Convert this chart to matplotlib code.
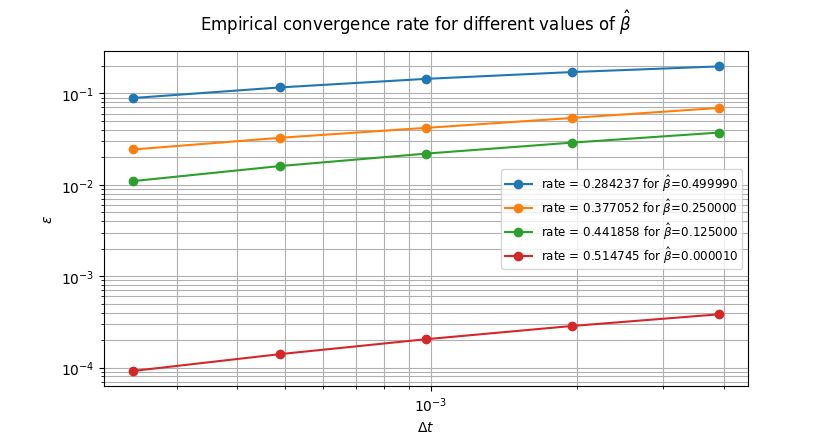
import matplotlib
matplotlib.use("Agg")
import matplotlib.pyplot as plt
import numpy as np

dt = [2**-12, 2**-11, 2**-10, 2**-9, 2**-8]
betas = [0.499990, 0.250000, 0.125000, 0.000010]
rates = [0.284237, 0.377052, 0.441858, 0.514745]
err_b0 = [0.0889, 0.116, 0.144, 0.171, 0.197]
err_b1 = [0.0243, 0.0326, 0.0419, 0.0538, 0.0692]
err_b2 = [0.01096, 0.0160, 0.0219, 0.0289, 0.0372]
err_b3 = [9.18e-5, 1.40e-4, 2.04e-4, 2.85e-4, 3.82e-4]
errors = [err_b0, err_b1, err_b2, err_b3]

fig, ax = plt.subplots(figsize=(8.31, 4.35), dpi=100)
for b, r, e in zip(betas, rates, errors):
    ax.loglog(dt, e, marker='o', label=f"rate = {r:.6f} for $\\hat{{\\beta}}$={b:.6f}")
ax.grid(True, which='both')
ax.set_xlabel(r"$\Delta t$")
ax.set_ylabel(r"$\epsilon$")
fig.suptitle(r"Empirical convergence rate for different values of $\hat{\beta}$")
ax.legend(loc='center right', fontsize=8.6, handlelength=2.25,
          labelspacing=0.25, borderpad=0.3, handletextpad=0.75)
fig.savefig("out.png", dpi=100)
